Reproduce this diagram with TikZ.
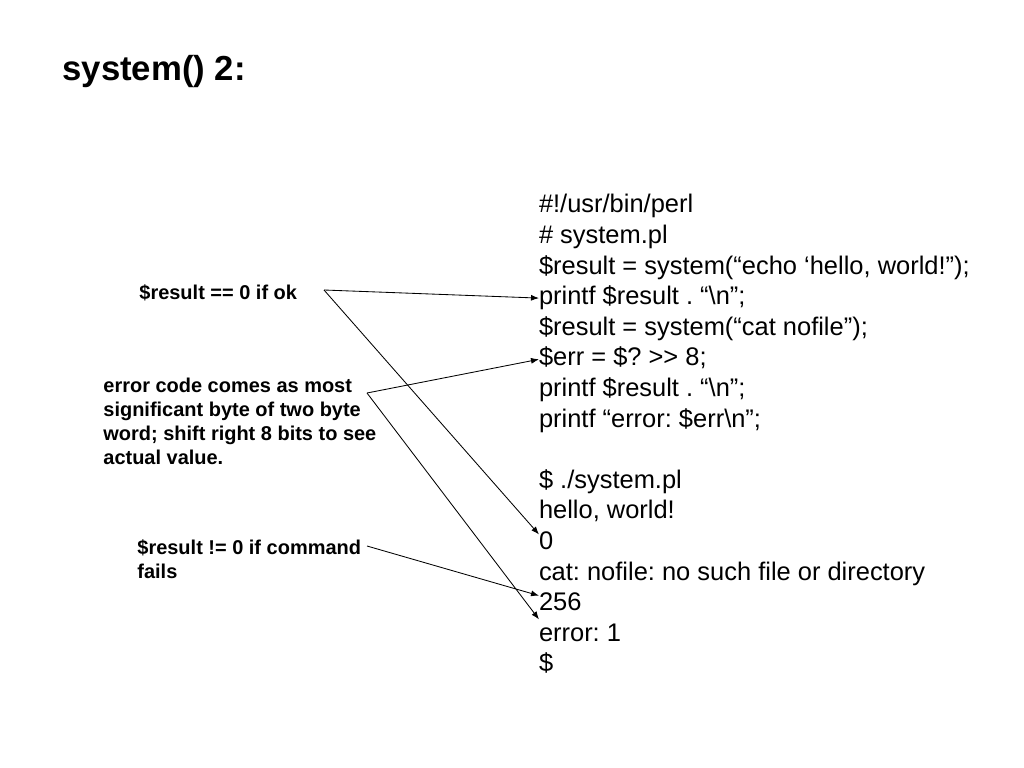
\documentclass[tikz,border=0pt]{standalone}
\usepackage{fontspec}
\setmainfont{Liberation Sans}
\usetikzlibrary{positioning, arrows.meta}
\frenchspacing

\begin{document}
\begin{tikzpicture}[x=0.025cm, y=-0.025cm,
    line/.style={font=\fontsize{18.1}{21.8}\selectfont, inner sep=0pt, outer sep=0pt,
      text height=15.6pt, text depth=6.16pt},
    note/.style={font=\fontsize{14.2}{17}\selectfont\bfseries, inner sep=0pt, align=left},
    every path/.style={line width=0.6pt}]
  \useasboundingbox (0,0) rectangle (1024,768);

  % Title
  \node[font=\fontsize{24.7}{29}\selectfont\bfseries, inner sep=0pt, anchor=base west] (title) at (62,81) {system() 2:};

  % Nodes
  \node[line, anchor=north west] (l1) at (539,191) {\#!/usr/bin/perl};
  \node[line, below right=0pt of l1.south west] (l2) {\# system.pl};
  \node[line, below right=0pt of l2.south west] (l3) {\$result = system(“echo ‘hello, world!”);};
  \node[line, below right=0pt of l3.south west] (l4) {printf \$result . “\textbackslash n”;};
  \node[line, below right=0pt of l4.south west] (l5) {\$result = system(“cat nofile”);};
  \node[line, below right=0pt of l5.south west] (l6) {\$err = \$? >\kern0pt> 8;};
  \node[line, below right=0pt of l6.south west] (l7) {printf \$result . “\textbackslash n”;};
  \node[line, below right=0pt of l7.south west] (l8) {printf “error: \$err\textbackslash n”;};
  \node[line, below right=0pt of l8.south west] (blank) {};
  \node[line, below right=0pt of blank.south west] (o1) {\$ ./system.pl};
  \node[line, below right=0pt of o1.south west] (o2) {hello, world!};
  \node[line, below right=0pt of o2.south west] (o3) {0};
  \node[line, below right=0pt of o3.south west] (o4) {cat: nofile: no such file or directory};
  \node[line, below right=0pt of o4.south west] (o5) {256};
  \node[line, below right=0pt of o5.south west] (o6) {error: 1};
  \node[line, below right=0pt of o6.south west] (o7) {\$};

  \node[note, anchor=base west] (ok) at (139,299) {\$result == 0 if ok};
  \node[note, anchor=north west] (errcode) at (103,378) {error code comes as most\\significant byte of two byte\\word; shift right 8 bits to see\\actual value.};
  \node[note, anchor=north west] (fails) at (137,539.5) {\$result != 0 if command\\fails};

  \coordinate (okpt) at (324,290);
  \coordinate (errpt) at (367,393);
  \coordinate (failpt) at (367,546);

  % Arrows
  \draw[-{Latex[length=2mm, width=1.5mm]}] (okpt) -- (l4.west);
  \draw[-{Latex[length=2mm, width=1.5mm]}] (okpt) -- ([yshift=6pt]o3.west);
  \draw[-{Latex[length=2mm, width=1.5mm]}] (errpt) -- (l6.west);
  \draw[-{Latex[length=2mm, width=1.5mm]}] (errpt) -- (o6.north west);
  \draw[-{Latex[length=2mm, width=1.5mm]}] (failpt) -- ([yshift=6pt]o5.west);
\end{tikzpicture}
\end{document}
